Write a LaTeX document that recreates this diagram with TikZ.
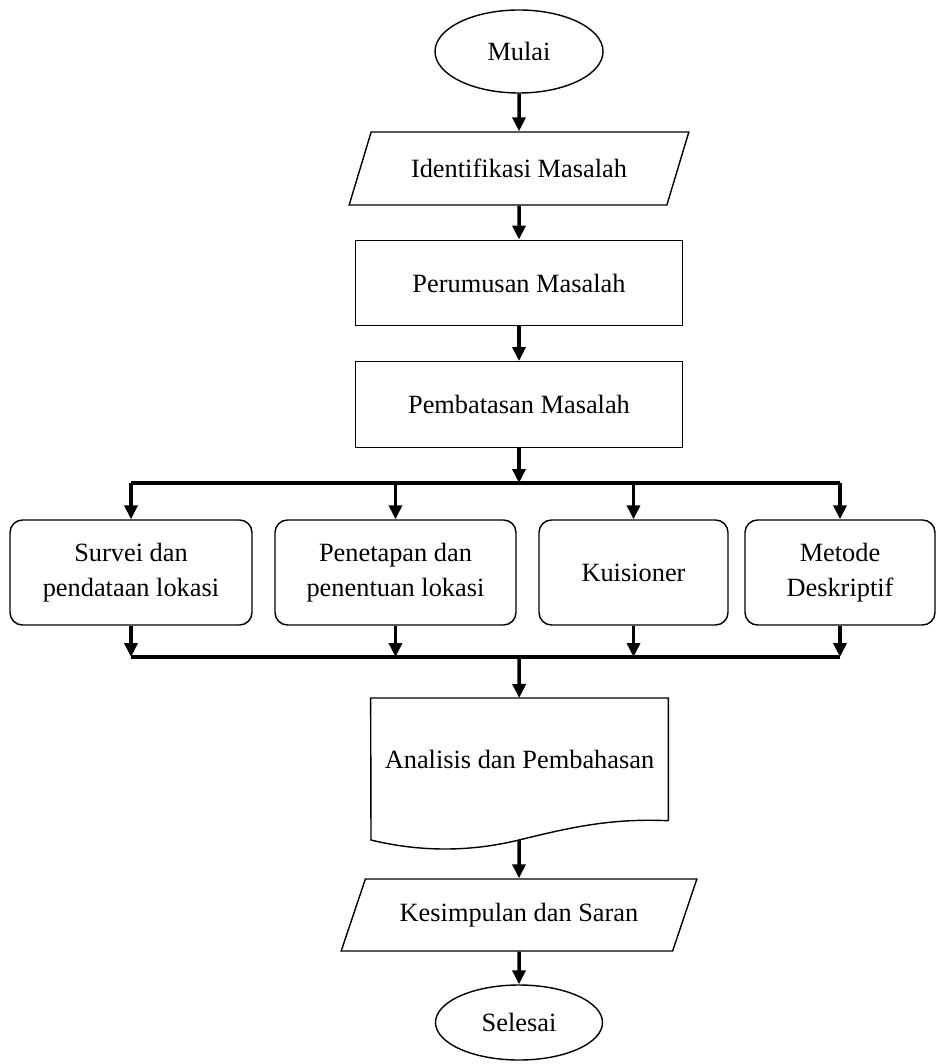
\documentclass[tikz,border=0pt]{standalone}
\usepackage{fontspec}
\setmainfont{Liberation Serif}
\usetikzlibrary{shapes.geometric,arrows.meta}

\begin{document}
\begin{tikzpicture}[
  font=\fontsize{15}{20}\selectfont,
  terminal/.style={draw, ellipse, line width=0.8pt, minimum width=3.36cm, minimum height=1.66cm},
  io/.style={draw, trapezium, trapezium left angle=61, trapezium right angle=119, trapezium stretches=true, line width=0.8pt, minimum width=6.8cm, minimum height=1.46cm},
  box/.style={draw, line width=0.8pt, minimum width=6.54cm, minimum height=1.71cm},
  method/.style={draw, rounded corners=0.25cm, align=center, line width=0.8pt, minimum height=2.1cm},
  bus/.style={line width=2pt},
  arrow/.style={-{Triangle[length=2.8mm,width=2.6mm]}, line width=2pt}
]
\useasboundingbox (0,0) rectangle (18.72,-21.28);

\node[terminal] at (10.38,-1.03) (mulai) {Mulai};
\node[io] at (10.38,-3.37) (identifikasi) {Identifikasi Masalah};
\node[box] at (10.38,-5.66) (perumusan) {Perumusan Masalah};
\node[box] at (10.38,-8.09) (pembatasan) {Pembatasan Masalah};

\node[method, minimum width=4.84cm] at (2.62,-11.45) (survei) {Survei dan\\pendataan lokasi};
\node[method, minimum width=4.82cm] at (7.91,-11.45) (penetapan) {Penetapan dan\\penentuan lokasi};
\node[method, minimum width=3.78cm] at (12.67,-11.45) (kuisioner) {Kuisioner};
\node[method, minimum width=3.8cm] at (16.8,-11.45) (metode) {Metode\\Deskriptif};

\node[minimum width=5.94cm, minimum height=2.44cm, anchor=north] at (10.39,-13.96) (analisis) {Analisis dan Pembahasan};
\node[io, minimum width=7.12cm, minimum height=1.44cm] at (10.38,-18.3) (kesimpulan) {Kesimpulan dan Saran};
\node[terminal, minimum width=3.34cm, minimum height=1.5cm] at (10.38,-20.45) (selesai) {Selesai};

\coordinate (split) at (10.38,-9.66);
\coordinate (join) at (10.38,-13.14);
\coordinate (wave) at (10.38,-16.8);

% document outline
\draw[line width=0.8pt] (analisis.south east) -- (analisis.north east) -- (analisis.north west) -- (7.42,-16.8)
  .. controls (8.4,-17.04) and (9.4,-17.04) .. (wave)
  .. controls (11.36,-16.56) and (12.2,-16.36) .. (analisis.south east);

\draw[arrow] (mulai) -- (identifikasi);
\draw[arrow] (identifikasi) -- (perumusan);
\draw[arrow] (perumusan) -- (pembatasan);
\draw[arrow] (pembatasan) -- (split);

\draw[bus] (survei.north |- split) -- (metode.north |- split);
\draw[arrow] (survei.north |- split) -- (survei);
\draw[arrow] (penetapan.north |- split) -- (penetapan);
\draw[arrow] (kuisioner.north |- split) -- (kuisioner);
\draw[arrow] (metode.north |- split) -- (metode);

\draw[arrow] (survei) -- (survei.south |- join);
\draw[arrow] (penetapan) -- (penetapan.south |- join);
\draw[arrow] (kuisioner) -- (kuisioner.south |- join);
\draw[arrow] (metode) -- (metode.south |- join);
\draw[bus] (survei.south |- join) -- (metode.south |- join);

\draw[arrow] (join) -- (analisis);
\draw[arrow] (wave) -- (kesimpulan);
\draw[arrow] (kesimpulan) -- (selesai);
\end{tikzpicture}
\end{document}
